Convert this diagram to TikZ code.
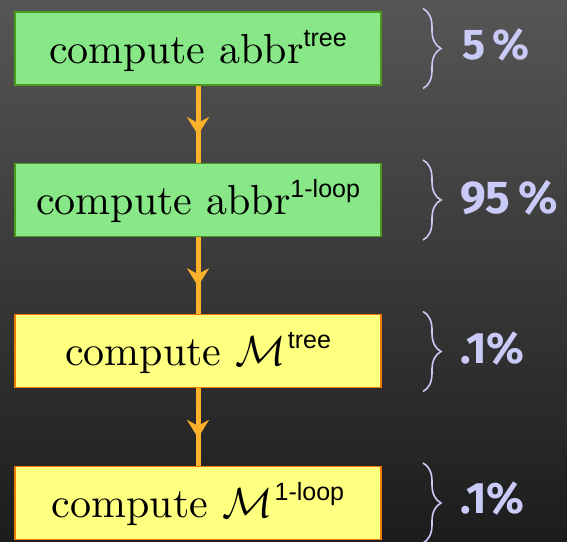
\documentclass[tikz,border=0pt]{standalone}
\usepackage{fix-cm}
\usepackage{fontspec}
\newfontfamily\supfont{Liberation Sans}
\newfontfamily\pctfont{Fira Sans}
\newfontfamily\boxfam{lmroman10-regular.otf}
\usetikzlibrary{decorations.pathreplacing,decorations.markings,arrows.meta}
\definecolor{bgtop}{HTML}{565656}
\definecolor{bgbot}{HTML}{1C1C1C}
\definecolor{gfill}{HTML}{88E888}
\definecolor{gborder}{HTML}{4A9A1E}
\definecolor{yfill}{HTML}{FFFF80}
\definecolor{yborder}{HTML}{EE7A00}
\definecolor{arrowc}{HTML}{FBB12A}
\definecolor{pctc}{HTML}{CACAF8}
\newcommand\boxfont{\boxfam\fontsize{42}{50}\selectfont}
\newcommand\sups[1]{\raisebox{17pt}{\supfont\fontsize{25}{30}\selectfont #1}}
\tikzset{
  basebox/.style={line width=1.5pt, minimum width=366pt, inner xsep=0pt, inner ysep=0pt,
    text height=51pt, text depth=22pt, font=\boxfont, text=black},
  gbox/.style={basebox, draw=gborder, fill=gfill},
  ybox/.style={basebox, draw=yborder, fill=yfill},
  flow/.style={draw=arrowc, line width=5pt,
    postaction={decorate},
    decoration={markings, mark=at position 0.64 with {\arrow[arrowc]{Stealth[length=18pt,width=22pt,inset=6pt]}}}},
  brc/.style={draw=pctc, line width=1.6pt, decorate,
    decoration={brace, amplitude=18pt}},
  pct/.style={anchor=base west, inner sep=0pt, text=pctc, font=\pctfont\bfseries}
}
\begin{document}
\begin{tikzpicture}[x=1pt,y=1pt]
\shade[top color=bgtop, bottom color=bgbot] (0,0) rectangle (567,-541);
\useasboundingbox (0,0) rectangle (567,-541);
\node[gbox] (b1) at (198,-48.5) {compute abbr\sups{tree}};
\node[gbox] (b2) at (198,-200) {compute abbr\sups{1-loop}};
\node[ybox] (b3) at (198,-351) {compute $\mathcal{M}$\hspace{2pt}\sups{tree}};
\node[ybox] (b4) at (198,-503) {compute $\mathcal{M}$\hspace{2pt}\sups{1-loop}};
\draw[flow] (b1) -- (b2);
\draw[flow] (b2) -- (b3);
\draw[flow] (b3) -- (b4);
\coordinate (t1) at (423,-8.5);  \coordinate (u1) at (423,-88.5);
\coordinate (t2) at (423,-160);  \coordinate (u2) at (423,-240);
\coordinate (t3) at (423,-311.5);\coordinate (u3) at (423,-391.5);
\coordinate (t4) at (423,-463);  \coordinate (u4) at (423,-543);
\draw[brc] (t1) -- (u1);
\draw[brc] (t2) -- (u2);
\draw[brc] (t3) -- (u3);
\draw[brc] (t4) -- (u4);
\node[pct, font=\pctfont\bfseries\fontsize{43}{50}\selectfont] (p1) at (462,-59) {5\,\%};
\node[pct, font=\pctfont\bfseries\fontsize{46}{54}\selectfont] (p2) at (460,-213) {95\,\%};
\node[pct, font=\pctfont\bfseries\fontsize{44}{52}\selectfont] (p3) at (460,-363) {.1\%};
\node[pct, font=\pctfont\bfseries\fontsize{44}{52}\selectfont] (p4) at (460,-513) {.1\%};
\end{tikzpicture}
\end{document}
